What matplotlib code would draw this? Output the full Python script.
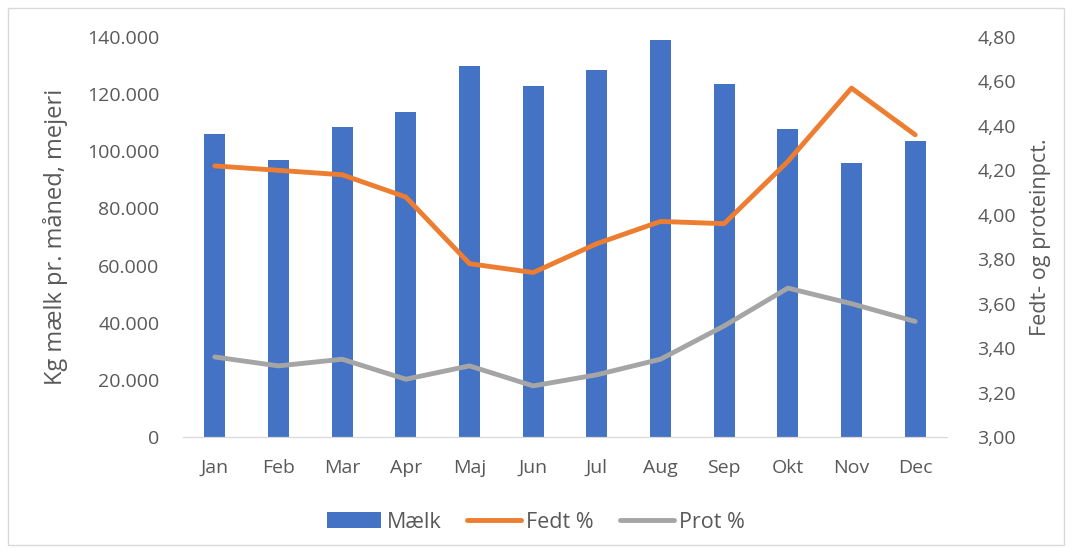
import matplotlib
matplotlib.use("Agg")
import matplotlib.pyplot as plt
from matplotlib.patches import Rectangle
from matplotlib.ticker import FuncFormatter


MONTHS = ["Jan", "Feb", "Mar", "Apr", "Maj", "Jun", "Jul", "Aug", "Sep", "Okt", "Nov", "Dec"]
MILK_KG = [106000, 97000, 108500, 113800, 130000, 122900, 128500, 139000, 123600, 107900, 95900, 103700]
FAT_PCT = [4.22, 4.20, 4.18, 4.08, 3.78, 3.74, 3.87, 3.97, 3.96, 4.24, 4.57, 4.36]
PROTEIN_PCT = [3.36, 3.32, 3.35, 3.26, 3.32, 3.23, 3.28, 3.35, 3.50, 3.67, 3.60, 3.52]

MILK_COLOR = "#4472c4"
FAT_COLOR = "#ed7d31"
PROTEIN_COLOR = "#a5a5a5"
TEXT_COLOR = "#595959"
FONT = "Open Sans"


def thousands(value, _pos):
	return f"{int(value):,}".replace(",", ".")


def decimals(value, _pos):
	return f"{value:.2f}".replace(".", ",")


def main() -> None:
	plt.rcParams["font.family"] = [FONT, "DejaVu Sans"]
	fig = plt.figure(figsize=(10.72, 5.53), dpi=100)
	fig.patches.append(Rectangle((8 / 1072, 8 / 553), 1056 / 1072, 537 / 553,
		transform=fig.transFigure, fill=False, edgecolor="#d9d9d9", linewidth=1))

	axis = fig.add_axes([183 / 1072, 116 / 553, 764 / 1072, 400 / 553])
	x = range(len(MONTHS))
	bars = axis.bar(x, MILK_KG, width=0.33, color=MILK_COLOR, label="Mælk", zorder=2)
	axis.set_ylim(0, 140000)
	axis.set_xlim(-0.5, len(MONTHS) - 0.5)
	axis.set_yticks(range(0, 140001, 20000))
	axis.yaxis.set_major_formatter(FuncFormatter(thousands))
	axis.set_xticks(list(x))
	axis.set_xticklabels(MONTHS)
	axis.set_ylabel("Kg mælk pr. måned, mejeri", fontsize=17, color=TEXT_COLOR, labelpad=14)

	twin = axis.twinx()
	fat_line, = twin.plot(x, FAT_PCT, color=FAT_COLOR, linewidth=3.5, label="Fedt %",
		solid_capstyle="round", solid_joinstyle="round")
	prot_line, = twin.plot(x, PROTEIN_PCT, color=PROTEIN_COLOR, linewidth=3.5, label="Prot %",
		solid_capstyle="round", solid_joinstyle="round")
	twin.set_ylim(3.0, 4.8)
	twin.set_yticks([3.0 + 0.2 * i for i in range(10)])
	twin.yaxis.set_major_formatter(FuncFormatter(decimals))
	twin.set_ylabel("Fedt- og proteinpct.", fontsize=15.5, color=TEXT_COLOR, labelpad=10)

	for ax in (axis, twin):
		for side in ("top", "left", "right"):
			ax.spines[side].set_visible(False)
		ax.spines["bottom"].set_color("#d9d9d9")
		ax.tick_params(length=0, labelsize=14, colors=TEXT_COLOR)
	axis.tick_params(axis="y", pad=17)
	axis.tick_params(axis="x", pad=16)
	twin.tick_params(axis="y", pad=22)

	fig.legend(
		handles=[bars, fat_line, prot_line],
		loc="center",
		bbox_to_anchor=(0.5, 31 / 553),
		ncol=3,
		frameon=False,
		fontsize=15.5,
		labelcolor=TEXT_COLOR,
		handlelength=2.5,
		handletextpad=0.25,
		columnspacing=1.2,
	)

	fig.savefig("out.png", dpi=100)


if __name__ == "__main__":
	main()
